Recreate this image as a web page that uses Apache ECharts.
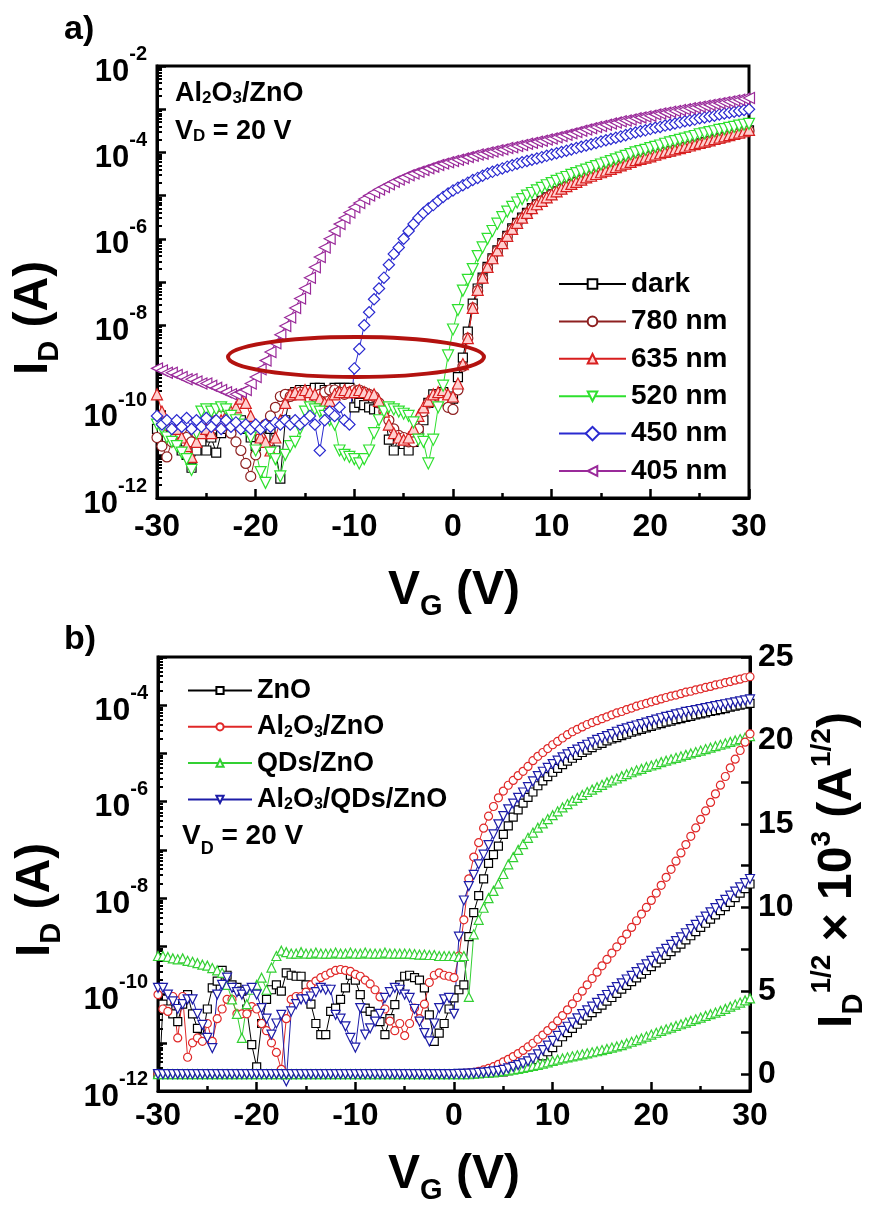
<!DOCTYPE html>
<html><head><meta charset="utf-8">
<script src="https://cdn.jsdelivr.net/npm/echarts@6.0.0/dist/echarts.min.js"></script>
<style>html,body{margin:0;padding:0;background:#fff}#c{width:869px;height:1209px}</style>
</head><body><div id="c"></div>
<script>
// Gate voltage sweep (V)
const VG = [-30,-29.5,-29,-28.5,-28,-27.5,-27,-26.5,-26,-25.5,
-25,-24.5,-24,-23.5,-23,-22.5,-22,-21.5,-21,-20.5,
-20,-19.5,-19,-18.5,-18,-17.5,-17,-16.5,-16,-15.5,
-15,-14.5,-14,-13.5,-13,-12.5,-12,-11.5,-11,-10.5,
-10,-9.5,-9,-8.5,-8,-7.5,-7,-6.5,-6,-5.5,
-5,-4.5,-4,-3.5,-3,-2.5,-2,-1.5,-1,-0.5,
0,0.5,1,1.5,2,2.5,3,3.5,4,4.5,
5,5.5,6,6.5,7,7.5,8,8.5,9,9.5,
10,10.5,11,11.5,12,12.5,13,13.5,14,14.5,
15,15.5,16,16.5,17,17.5,18,18.5,19,19.5,
20,20.5,21,21.5,22,22.5,23,23.5,24,24.5,
25,25.5,26,26.5,27,27.5,28,28.5,29,29.5,30];

// ---- panel a) : log10 of I_D (A), Al2O3/ZnO under illumination ----
const a_dark_log10ID = [-10.4,-10.45,-10.6,-10.5,-10.7,-10.9,-11.0,-11.3,-10.9,-10.7,
-10.9,-10.6,-10.95,-10.5,-10.4,-10.45,-10.3,-10.2,-10.4,-10.6,
-10.8,-10.5,-10.6,-10.4,-10.9,-11.55,-10.2,-9.6,-9.55,-9.5,
-9.5,-9.5,-9.45,-9.45,-9.5,-9.5,-9.45,-9.45,-9.45,-9.45,
-9.9,-9.8,-9.85,-9.9,-9.95,-10.0,-9.95,-10.65,-10.9,-10.6,
-10.75,-10.9,-10.7,-10.45,-10.2,-9.8,-9.6,-9.6,-9.55,-9.65,
-9.7,-9.2,-8.75,-8.15,-7.5,-7.15,-6.9,-6.65,-6.45,-6.27,
-6.1,-5.93,-5.76,-5.63,-5.51,-5.4,-5.29,-5.2,-5.12,-5.04,
-4.97,-4.9,-4.84,-4.79,-4.73,-4.68,-4.63,-4.59,-4.54,-4.5,
-4.46,-4.42,-4.38,-4.34,-4.3,-4.26,-4.22,-4.19,-4.15,-4.12,
-4.09,-4.06,-4.03,-4.0,-3.97,-3.94,-3.91,-3.88,-3.85,-3.82,
-3.79,-3.76,-3.73,-3.7,-3.67,-3.64,-3.61,-3.58,-3.55,-3.52,-3.49];
const a_780_log10ID = [-10.6,-10.8,-11.05,-10.7,-10.5,-10.4,-10.6,-10.7,-10.5,-10.3,
-10.4,-10.3,-10.2,-10.1,-10.3,-10.5,-10.7,-10.9,-11.2,-11.5,
-11.0,-10.6,-10.3,-10.1,-9.9,-9.65,-9.6,-9.65,-9.6,-9.55,
-9.6,-9.7,-9.65,-9.6,-9.55,-9.5,-9.5,-9.55,-9.6,-9.55,
-9.5,-9.5,-9.55,-9.6,-9.65,-9.8,-10.0,-10.2,-10.4,-10.55,
-10.6,-10.7,-10.7,-10.4,-10.0,-9.8,-9.7,-9.65,-9.75,-9.9,
-9.95,-9.5,-8.95,-8.3,-7.6,-7.2,-6.92,-6.67,-6.46,-6.28,
-6.11,-5.94,-5.78,-5.64,-5.52,-5.41,-5.3,-5.21,-5.12,-5.05,
-4.98,-4.91,-4.85,-4.79,-4.74,-4.69,-4.64,-4.59,-4.55,-4.51,
-4.47,-4.43,-4.39,-4.35,-4.31,-4.27,-4.23,-4.19,-4.16,-4.13,
-4.1,-4.06,-4.03,-4.0,-3.97,-3.94,-3.91,-3.88,-3.85,-3.82,
-3.8,-3.77,-3.74,-3.71,-3.68,-3.65,-3.62,-3.59,-3.56,-3.53,-3.5];
const a_635_log10ID = [-9.6,-10.0,-10.3,-10.5,-10.4,-10.6,-10.8,-11.05,-10.7,-10.5,
-10.4,-10.5,-10.3,-10.2,-10.1,-10.0,-9.9,-9.7,-9.8,-10.1,
-10.4,-10.6,-10.7,-10.9,-10.6,-10.2,-9.8,-9.6,-9.55,-9.6,
-9.5,-9.55,-9.6,-9.7,-9.8,-9.75,-9.6,-9.55,-9.5,-9.55,
-9.55,-9.5,-9.55,-9.6,-9.6,-9.75,-10.0,-10.3,-10.5,-10.6,
-10.65,-10.6,-10.4,-10.1,-9.9,-9.75,-9.6,-9.55,-9.5,-9.6,
-9.65,-9.35,-8.9,-8.3,-7.6,-7.18,-6.9,-6.65,-6.45,-6.27,
-6.1,-5.93,-5.77,-5.63,-5.51,-5.4,-5.29,-5.2,-5.12,-5.04,
-4.97,-4.9,-4.84,-4.78,-4.73,-4.68,-4.63,-4.58,-4.54,-4.5,
-4.46,-4.42,-4.38,-4.34,-4.3,-4.26,-4.22,-4.18,-4.15,-4.12,
-4.09,-4.05,-4.02,-3.99,-3.96,-3.93,-3.9,-3.87,-3.84,-3.81,
-3.78,-3.75,-3.72,-3.69,-3.66,-3.63,-3.6,-3.57,-3.54,-3.51,-3.48];
const a_520_log10ID = [-10.3,-10.4,-10.6,-10.7,-10.8,-10.95,-11.1,-11.35,-10.5,-10.0,
-9.95,-10.0,-9.95,-9.9,-9.95,-10.1,-10.2,-10.3,-10.4,-10.6,
-10.9,-11.4,-11.65,-10.95,-11.1,-11.5,-11.0,-10.8,-10.7,-10.4,
-10.0,-9.9,-9.95,-10.0,-10.1,-10.2,-10.3,-10.9,-11.0,-11.05,
-11.1,-11.2,-11.1,-10.9,-10.5,-10.2,-10.0,-9.9,-9.95,-10.0,
-10.05,-10.1,-10.25,-10.65,-10.7,-11.2,-10.65,-9.9,-9.4,-8.7,
-8.1,-7.65,-7.2,-6.95,-6.7,-6.4,-6.2,-6.0,-5.82,-5.65,
-5.5,-5.37,-5.26,-5.16,-5.08,-5.0,-4.94,-4.88,-4.82,-4.76,
-4.71,-4.66,-4.61,-4.57,-4.52,-4.48,-4.44,-4.4,-4.36,-4.32,
-4.28,-4.24,-4.2,-4.16,-4.12,-4.08,-4.04,-4.0,-3.97,-3.94,
-3.9,-3.87,-3.84,-3.8,-3.77,-3.74,-3.71,-3.68,-3.65,-3.62,
-3.58,-3.56,-3.53,-3.51,-3.48,-3.46,-3.43,-3.41,-3.38,-3.36,-3.34];
const a_450_log10ID = [-10.1,-10.3,-10.2,-10.4,-10.2,-10.35,-10.15,-10.4,-10.2,-10.35,
-10.15,-10.35,-10.2,-10.4,-10.2,-10.35,-10.25,-10.4,-10.3,-10.4,
-10.3,-10.4,-10.3,-10.35,-10.25,-10.3,-10.2,-10.3,-10.2,-10.3,
-10.2,-10.1,-10.3,-10.9,-10.2,-10.0,-10.1,-9.9,-10.2,-10.3,
-9.0,-8.55,-8.0,-7.7,-7.4,-7.15,-6.9,-6.6,-6.35,-6.2,
-6.0,-5.82,-5.66,-5.52,-5.4,-5.3,-5.22,-5.12,-5.03,-4.95,
-4.88,-4.82,-4.76,-4.7,-4.64,-4.59,-4.54,-4.49,-4.45,-4.41,
-4.37,-4.33,-4.3,-4.26,-4.23,-4.2,-4.17,-4.14,-4.11,-4.08,
-4.05,-4.02,-3.99,-3.96,-3.93,-3.9,-3.87,-3.84,-3.81,-3.78,
-3.75,-3.72,-3.69,-3.66,-3.63,-3.6,-3.57,-3.54,-3.51,-3.49,
-3.46,-3.43,-3.41,-3.38,-3.36,-3.33,-3.31,-3.28,-3.26,-3.24,
-3.21,-3.19,-3.17,-3.15,-3.12,-3.1,-3.08,-3.06,-3.04,-3.02,-3.0];
const a_405_log10ID = [-9.0,-9.05,-9.1,-9.1,-9.15,-9.2,-9.25,-9.25,-9.3,-9.35,
-9.35,-9.4,-9.45,-9.5,-9.55,-9.6,-9.6,-9.55,-9.5,-9.35,
-9.2,-9.02,-8.82,-8.62,-8.42,-8.22,-8.02,-7.82,-7.6,-7.38,
-7.15,-6.9,-6.66,-6.42,-6.2,-6.0,-5.82,-5.66,-5.52,-5.39,
-5.27,-5.17,-5.08,-5.0,-4.93,-4.86,-4.8,-4.74,-4.68,-4.63,
-4.58,-4.53,-4.49,-4.45,-4.41,-4.37,-4.33,-4.29,-4.26,-4.23,
-4.2,-4.17,-4.14,-4.11,-4.08,-4.05,-4.03,-4.0,-3.98,-3.95,
-3.93,-3.9,-3.88,-3.85,-3.83,-3.8,-3.78,-3.75,-3.73,-3.7,
-3.68,-3.65,-3.62,-3.59,-3.56,-3.53,-3.5,-3.47,-3.44,-3.41,
-3.39,-3.36,-3.33,-3.31,-3.28,-3.26,-3.24,-3.21,-3.19,-3.17,
-3.15,-3.12,-3.1,-3.08,-3.06,-3.04,-3.02,-3.0,-2.98,-2.96,
-2.94,-2.92,-2.9,-2.88,-2.86,-2.84,-2.82,-2.8,-2.78,-2.76,-2.74];

// ---- panel b) : log10 of I_D (A), left axis ----
const b_ZnO_log10ID = [-12.3,-10.2,-10.3,-10.4,-10.56,-10.2,-10.0,-10.4,-10.7,-10.9,
-10.3,-9.86,-9.72,-9.5,-9.6,-9.8,-9.85,-9.93,-10.3,-11.04,
-11.5,-10.6,-10.1,-9.9,-9.8,-9.93,-9.55,-9.6,-9.62,-9.62,
-9.8,-10.2,-10.6,-10.83,-10.83,-10.35,-10.28,-10.1,-9.86,-9.6,
-9.7,-10.0,-10.28,-10.35,-10.42,-10.56,-10.83,-10.5,-10.21,-9.8,
-9.62,-9.6,-9.65,-9.7,-9.86,-10.42,-10.97,-10.8,-10.6,-10.3,
-10.07,-9.9,-9.8,-8.8,-8.3,-7.95,-7.6,-7.28,-7.1,-6.92,
-6.68,-6.5,-6.32,-6.17,-6.03,-5.91,-5.8,-5.67,-5.57,-5.48,
-5.39,-5.31,-5.23,-5.16,-5.1,-5.04,-4.98,-4.93,-4.88,-4.83,
-4.79,-4.74,-4.7,-4.67,-4.63,-4.6,-4.56,-4.53,-4.5,-4.47,
-4.44,-4.41,-4.38,-4.35,-4.33,-4.3,-4.28,-4.25,-4.23,-4.2,
-4.18,-4.16,-4.13,-4.11,-4.09,-4.07,-4.04,-4.02,-4.0,-3.98,-3.96];
const b_AlZnO_log10ID = [-10.0,-10.3,-10.35,-10.04,-10.9,-10.04,-11.3,-11.0,-10.9,-10.97,
-10.6,-10.97,-10.5,-10.3,-10.1,-10.1,-10.4,-10.4,-10.4,-10.25,
-10.3,-10.6,-10.75,-11.0,-11.2,-11.55,-10.5,-10.1,-10.04,-10.04,
-9.95,-9.8,-9.72,-9.65,-9.6,-9.55,-9.5,-9.48,-9.5,-9.52,
-9.58,-9.62,-9.7,-9.78,-9.9,-10.05,-10.3,-10.55,-10.75,-10.6,
-10.85,-10.6,-10.28,-10.5,-10.2,-9.75,-9.6,-9.55,-9.6,-9.62,
-9.65,-9.2,-8.45,-7.6,-7.15,-6.85,-6.55,-6.3,-6.1,-5.92,
-5.78,-5.66,-5.56,-5.46,-5.37,-5.27,-5.15,-5.06,-4.98,-4.9,
-4.82,-4.75,-4.68,-4.61,-4.55,-4.5,-4.45,-4.4,-4.36,-4.32,
-4.28,-4.24,-4.2,-4.16,-4.13,-4.09,-4.06,-4.02,-3.99,-3.96,
-3.93,-3.9,-3.87,-3.84,-3.81,-3.79,-3.76,-3.73,-3.71,-3.68,
-3.66,-3.63,-3.61,-3.58,-3.56,-3.53,-3.51,-3.48,-3.46,-3.43,-3.41];
const b_QDZnO_log10ID = [-9.2,-9.2,-9.22,-9.25,-9.27,-9.25,-9.3,-9.32,-9.35,-9.38,
-9.4,-9.45,-9.5,-9.55,-9.8,-10.1,-10.4,-10.9,-10.2,-9.9,
-9.8,-9.65,-9.9,-9.44,-9.2,-9.09,-9.12,-9.15,-9.15,-9.12,
-9.15,-9.15,-9.13,-9.15,-9.15,-9.15,-9.13,-9.15,-9.15,-9.13,
-9.15,-9.15,-9.13,-9.15,-9.15,-9.15,-9.13,-9.15,-9.15,-9.15,
-9.15,-9.15,-9.16,-9.17,-9.17,-9.18,-9.18,-9.2,-9.2,-9.2,
-9.2,-9.22,-9.2,-10.05,-8.75,-8.45,-8.2,-8.0,-7.85,-7.7,
-7.5,-7.3,-7.15,-7.0,-6.88,-6.75,-6.64,-6.54,-6.45,-6.36,
-6.28,-6.2,-6.12,-6.05,-5.98,-5.92,-5.86,-5.8,-5.75,-5.7,
-5.65,-5.6,-5.56,-5.52,-5.47,-5.43,-5.39,-5.35,-5.32,-5.28,
-5.25,-5.22,-5.18,-5.15,-5.12,-5.09,-5.06,-5.03,-5.0,-4.97,
-4.94,-4.91,-4.88,-4.85,-4.82,-4.79,-4.76,-4.73,-4.7,-4.67,-4.64];
const b_AlQDZnO_log10ID = [-9.86,-9.86,-10.0,-10.14,-10.3,-10.2,-10.1,-10.1,-10.4,-10.63,
-10.9,-11.11,-10.0,-9.8,-9.65,-9.86,-9.95,-10.0,-9.9,-9.86,
-10.0,-10.28,-10.5,-10.83,-10.6,-10.42,-11.8,-10.35,-10.2,-10.1,
-10.1,-10.04,-9.95,-9.86,-9.9,-9.9,-10.42,-10.5,-10.66,-10.9,
-11.1,-10.28,-10.83,-10.7,-10.56,-10.4,-10.07,-9.95,-9.86,-9.9,
-10.0,-10.07,-10.3,-10.56,-10.8,-10.97,-10.6,-10.28,-10.1,-10.07,
-10.4,-8.8,-8.05,-7.75,-7.52,-7.3,-7.1,-6.9,-6.68,-6.47,
-6.3,-6.16,-6.04,-5.92,-5.81,-5.7,-5.58,-5.47,-5.38,-5.3,
-5.22,-5.15,-5.08,-5.02,-4.97,-4.92,-4.87,-4.82,-4.77,-4.72,
-4.68,-4.64,-4.6,-4.55,-4.51,-4.48,-4.45,-4.42,-4.39,-4.36,
-4.33,-4.3,-4.27,-4.24,-4.22,-4.19,-4.17,-4.14,-4.12,-4.1,
-4.08,-4.06,-4.04,-4.02,-4.0,-3.98,-3.96,-3.94,-3.92,-3.9,-3.88];

// ---- panel b) : I_D^(1/2) x 10^3 (A^(1/2)), right axis ----
const b_ZnO_sqrtID = [0.01,0.01,0.01,0.01,0.01,0.01,0.01,0.01,0.01,0.01,
0.01,0.01,0.01,0.01,0.01,0.01,0.01,0.01,0.01,0.01,
0.01,0.01,0.01,0.01,0.01,0.01,0.01,0.01,0.01,0.01,
0.01,0.01,0.01,0.01,0.01,0.01,0.01,0.01,0.01,0.01,
0.01,0.01,0.01,0.01,0.01,0.01,0.01,0.01,0.01,0.01,
0.01,0.01,0.01,0.01,0.01,0.01,0.01,0.01,0.01,0.01,
0.01,0.01,0.02,0.03,0.04,0.05,0.07,0.09,0.11,0.13,
0.15,0.22,0.3,0.4,0.5,0.6,0.7,0.88,1.1,1.35,
1.6,1.92,2.25,2.5,2.75,3.0,3.25,3.48,3.7,3.93,
4.15,4.38,4.6,4.85,5.1,5.33,5.55,5.78,6.0,6.22,
6.45,6.68,6.9,7.12,7.35,7.58,7.8,8.05,8.3,8.55,
8.8,9.05,9.3,9.55,9.8,10.05,10.3,10.58,10.85,11.12,11.4];
const b_AlZnO_sqrtID = [0.02,0.02,0.02,0.02,0.02,0.02,0.02,0.02,0.02,0.02,
0.02,0.02,0.02,0.02,0.02,0.02,0.02,0.02,0.02,0.02,
0.02,0.02,0.02,0.02,0.02,0.02,0.02,0.02,0.02,0.02,
0.02,0.02,0.02,0.02,0.02,0.02,0.02,0.02,0.02,0.02,
0.02,0.02,0.02,0.02,0.02,0.02,0.02,0.02,0.02,0.02,
0.02,0.02,0.02,0.02,0.02,0.02,0.02,0.02,0.02,0.02,
0.02,0.03,0.05,0.08,0.12,0.18,0.26,0.35,0.46,0.6,
0.75,0.9,1.06,1.24,1.43,1.64,1.86,2.1,2.35,2.62,
2.9,3.2,3.52,3.86,4.22,4.6,4.98,5.36,5.74,6.12,
6.5,6.88,7.26,7.64,8.02,8.4,8.8,9.2,9.6,10.0,
10.42,10.86,11.32,11.8,12.28,12.77,13.26,13.76,14.26,14.76,
15.27,15.78,16.29,16.8,17.32,17.84,18.36,18.88,19.4,19.9,20.4];
const b_QDZnO_sqrtID = [0.01,0.01,0.01,0.01,0.01,0.01,0.01,0.01,0.01,0.01,
0.01,0.01,0.01,0.01,0.01,0.01,0.01,0.01,0.01,0.01,
0.01,0.01,0.01,0.01,0.01,0.01,0.01,0.01,0.01,0.01,
0.01,0.01,0.01,0.01,0.01,0.01,0.01,0.01,0.01,0.01,
0.01,0.01,0.01,0.01,0.01,0.01,0.01,0.01,0.01,0.01,
0.01,0.01,0.01,0.01,0.01,0.01,0.01,0.01,0.01,0.01,
0.01,0.01,0.01,0.01,0.04,0.05,0.08,0.1,0.12,0.16,
0.2,0.24,0.28,0.33,0.38,0.44,0.5,0.57,0.64,0.72,
0.8,0.88,0.95,1.02,1.08,1.14,1.2,1.26,1.32,1.38,
1.45,1.52,1.6,1.67,1.75,1.85,1.95,2.05,2.15,2.26,
2.38,2.49,2.6,2.7,2.8,2.9,3.0,3.1,3.2,3.3,
3.4,3.5,3.6,3.7,3.8,3.92,4.05,4.18,4.3,4.43,4.55];
const b_AlQDZnO_sqrtID = [0.01,0.01,0.01,0.01,0.01,0.01,0.01,0.01,0.01,0.01,
0.01,0.01,0.01,0.01,0.01,0.01,0.01,0.01,0.01,0.01,
0.01,0.01,0.01,0.01,0.01,0.01,0.01,0.01,0.01,0.01,
0.01,0.01,0.01,0.01,0.01,0.01,0.01,0.01,0.01,0.01,
0.01,0.01,0.01,0.01,0.01,0.01,0.01,0.01,0.01,0.01,
0.01,0.01,0.01,0.01,0.01,0.01,0.01,0.01,0.01,0.01,
0.01,0.02,0.03,0.04,0.06,0.08,0.1,0.13,0.17,0.21,
0.26,0.35,0.45,0.55,0.65,0.78,0.95,1.2,1.45,1.72,
2.0,2.3,2.6,2.85,3.1,3.35,3.6,3.83,4.05,4.28,
4.5,4.75,5.0,5.22,5.45,5.68,5.9,6.12,6.35,6.58,
6.8,7.05,7.3,7.52,7.75,7.98,8.2,8.45,8.7,8.95,
9.2,9.45,9.7,9.95,10.2,10.45,10.7,10.95,11.2,11.45,11.7];

// ---- tick labels ----
const xTickLabels = [-30,-20,-10,0,10,20,30];
const a_yDecades = [-12,-11,-10,-9,-8,-7,-6,-5,-4,-3,-2];
const a_yLabelExps = [-12,-10,-8,-6,-4,-2];
const b_yDecades = [-12,-11,-10,-9,-8,-7,-6,-5,-4,-3];
const b_yLabelExps = [-12,-10,-8,-6,-4];
const b_rightLabels = [0,5,10,15,20,25];
const b_rightTicks = [0,2.5,5,7.5,10,12.5,15,17.5,20,22.5,25];

const F = "'Liberation Sans', Arial, Helvetica, sans-serif";
const pow10 = e => Number('1e' + e);
const minorOf = decs => { const r = []; decs.slice(0, -1).forEach(d => { for (let k = 2; k <= 9; k++) r.push(k * pow10(d)); }); return r; };

const logData = L => VG.map((v, i) => [v, Math.pow(10, L[i])]);
const linData = S => VG.map((v, i) => [v, S[i]]);

function ser(name, xi, yi, data, o) {
  return { name, type: 'line', xAxisIndex: xi, yAxisIndex: yi, data,
    symbol: o.sym, symbolSize: o.size, symbolRotate: o.rot || 0,
    showSymbol: true, showAllSymbol: true, clip: true, silent: true, animation: false,
    lineStyle: { color: o.color, width: 1 },
    itemStyle: { color: o.fill || '#fff', borderColor: o.color, borderWidth: 1.2 },
    emphasis: { disabled: true } };
}

const subRich = (size) => ({
  n: { fontSize: size, fontWeight: 'bold', fontFamily: F, color: '#000', lineHeight: size, verticalAlign: 'bottom' },
  s: { fontSize: Math.round(size * 0.6), fontWeight: 'bold', fontFamily: F, color: '#000', lineHeight: size, verticalAlign: 'bottom' }
});
const chemFmt = name => {
  const parts = name.split('Al2O3');
  let out = '';
  parts.forEach((p, i) => {
    if (i > 0) out += '{n|Al}{s|2}{n|O}{s|3}';
    if (p) out += '{n|' + p + '}';
  });
  return out;
};

const expRich = (size) => ({
  b: { fontSize: size, fontWeight: 'bold', fontFamily: F, color: '#000', lineHeight: size + 12, verticalAlign: 'bottom' },
  s: { fontSize: 20, fontWeight: 'bold', fontFamily: F, color: '#000', lineHeight: 20, verticalAlign: 'top' }
});
const expFmt = v => '{b|10}{s|' + Math.round(Math.log10(v)) + '}';

const axLine = { onZero: false, lineStyle: { color: '#000', width: 3 } };
function xAx(g) {
  return { gridIndex: g, type: 'value', min: -30, max: 30, interval: 10,
    axisLine: axLine,
    axisTick: { inside: true, length: 9, lineStyle: { color: '#000', width: 2.5 } },
    minorTick: { show: true, splitNumber: 2, length: 5, lineStyle: { color: '#000', width: 2.5 } },
    splitLine: { show: false }, minorSplitLine: { show: false },
    axisLabel: { fontSize: 32, fontWeight: 'bold', fontFamily: F, color: '#000', margin: g === 0 ? 13 : 9 } };
}
function logAx(g, decs, labs) {
  return { gridIndex: g, type: 'log', logBase: 10, min: pow10(decs[0]), max: pow10(decs[decs.length - 1]), position: 'left',
    axisLine: axLine,
    axisTick: { inside: true, length: 9, customValues: decs.map(pow10), lineStyle: { color: '#000', width: 2.5 } },
    axisLabel: { customValues: labs.map(pow10), formatter: expFmt, rich: expRich(g === 0 ? 31 : 32), margin: 10 },
    splitLine: { show: false } };
}
function logMinorAx(g, decs) {
  return { gridIndex: g, type: 'log', logBase: 10, min: pow10(decs[0]), max: pow10(decs[decs.length - 1]), position: 'left',
    axisLine: { show: false, onZero: false }, axisLabel: { show: false }, splitLine: { show: false },
    axisTick: { inside: true, length: 5, customValues: minorOf(decs), lineStyle: { color: '#000', width: 2 } } };
}

const series = [
  ser('dark', 0, 0, logData(a_dark_log10ID), { sym: 'rect', size: 9, color: '#000' }),
  ser('780 nm', 0, 0, logData(a_780_log10ID), { sym: 'circle', size: 10, color: '#8e2020', fill: '#fff' }),
  ser('635 nm', 0, 0, logData(a_635_log10ID), { sym: 'triangle', size: 11, color: '#d81e1e', fill: '#ffcfcf' }),
  ser('520 nm', 0, 0, logData(a_520_log10ID), { sym: 'triangle', size: 11, rot: 180, color: '#2ee02e' }),
  ser('450 nm', 0, 0, logData(a_450_log10ID), { sym: 'rect', size: 8, rot: 45, color: '#2a2ad0' }),
  ser('405 nm', 0, 0, logData(a_405_log10ID), { sym: 'triangle', size: 11, rot: 90, color: '#9a2a9a' }),

  ser('ZnO', 1, 2, logData(b_ZnO_log10ID), { sym: 'rect', size: 8, color: '#000' }),
  ser('Al2O3/ZnO', 1, 2, logData(b_AlZnO_log10ID), { sym: 'circle', size: 8, color: '#e02828' }),
  ser('QDs/ZnO', 1, 2, logData(b_QDZnO_log10ID), { sym: 'triangle', size: 9, color: '#33d033' }),
  ser('Al2O3/QDs/ZnO', 1, 2, logData(b_AlQDZnO_log10ID), { sym: 'triangle', size: 9, rot: 180, color: '#1c1ca8' }),
  ser('ZnO', 1, 4, linData(b_ZnO_sqrtID), { sym: 'rect', size: 8, color: '#000' }),
  ser('Al2O3/ZnO', 1, 4, linData(b_AlZnO_sqrtID), { sym: 'circle', size: 8, color: '#e02828' }),
  ser('QDs/ZnO', 1, 4, linData(b_QDZnO_sqrtID), { sym: 'triangle', size: 9, color: '#33d033' }),
  ser('Al2O3/QDs/ZnO', 1, 4, linData(b_AlQDZnO_sqrtID), { sym: 'triangle', size: 9, rot: 180, color: '#1c1ca8' })
];

const T = (x, y, text, rich, extra) => Object.assign({
  type: 'text', x, y, silent: true, z: 100,
  style: { text, rich, fill: '#000', align: 'left', verticalAlign: 'middle', textAlign: 'left', textVerticalAlign: 'middle', fontFamily: F, fontWeight: 'bold' }
}, extra || {});
const C = (x, y, text, rich, rot) => ({
  type: 'text', x, y, rotation: rot || 0, silent: true, z: 100,
  style: { text, rich, fill: '#000', align: 'center', verticalAlign: 'middle', textAlign: 'center', textVerticalAlign: 'middle', fontFamily: F, fontWeight: 'bold' }
});
const titleRich = {
  a: { fontSize: 48, fontWeight: 'bold', fontFamily: F, color: '#000', lineHeight: 60, verticalAlign: 'middle' },
  d: { fontSize: 29, fontWeight: 'bold', fontFamily: F, color: '#000', lineHeight: 60, verticalAlign: 'bottom' },
  u: { fontSize: 28, fontWeight: 'bold', fontFamily: F, color: '#000', lineHeight: 60, verticalAlign: 'top' }
};
const vdRichA = {
  n: { fontSize: 27, fontWeight: 'bold', fontFamily: F, color: '#000', lineHeight: 28, verticalAlign: 'bottom' },
  s: { fontSize: 17, fontWeight: 'bold', fontFamily: F, color: '#000', lineHeight: 28, verticalAlign: 'bottom' }
};
const vdRichB = {
  n: { fontSize: 28, fontWeight: 'bold', fontFamily: F, color: '#000', lineHeight: 30, verticalAlign: 'middle' },
  s: { fontSize: 18, fontWeight: 'bold', fontFamily: F, color: '#000', lineHeight: 44, verticalAlign: 'bottom' }
};

const option = {
  animation: false,
  backgroundColor: '#fff',
  grid: [
    { left: 157, top: 66, width: 592, height: 432, show: true, borderColor: '#000', borderWidth: 3, backgroundColor: 'transparent' },
    { left: 158, top: 657, width: 592, height: 434, show: true, borderColor: '#000', borderWidth: 3, backgroundColor: 'transparent' }
  ],
  xAxis: [xAx(0), xAx(1)],
  yAxis: [
    logAx(0, a_yDecades, a_yLabelExps),
    logMinorAx(0, a_yDecades),
    logAx(1, b_yDecades, b_yLabelExps),
    logMinorAx(1, b_yDecades),
    { gridIndex: 1, type: 'value', position: 'right', min: -1, max: 25,
      axisLine: axLine,
      axisTick: { inside: true, length: 9, customValues: b_rightTicks, lineStyle: { color: '#000', width: 2.5 } },
      axisLabel: { customValues: b_rightLabels, fontSize: 32, fontWeight: 'bold', fontFamily: F, color: '#000', margin: 8 },
      splitLine: { show: false } }
  ],
  legend: [
    { data: ['dark', '780 nm', '635 nm', '520 nm', '450 nm', '405 nm'], orient: 'vertical', left: 553, top: 265,
      itemWidth: 67, itemHeight: 12, itemGap: 9.4, selectedMode: false,
      textStyle: { fontSize: 28, fontWeight: 'bold', fontFamily: F, color: '#000', lineHeight: 28 } },
    { data: ['ZnO', 'Al2O3/ZnO', 'QDs/ZnO', 'Al2O3/QDs/ZnO'], orient: 'vertical', left: 182, top: 672,
      itemWidth: 64, itemHeight: 9, itemGap: 9.3, selectedMode: false,
      formatter: chemFmt,
      textStyle: { fontSize: 27, fontWeight: 'bold', fontFamily: F, color: '#000', lineHeight: 27, rich: subRich(27) } }
  ],
  graphic: [
    T(64, 30, 'a)', null, { style: { text: 'a)', fontSize: 34, fontWeight: 'bold', fontFamily: F, fill: '#000', align: 'left', verticalAlign: 'middle' } }),
    T(64, 640, 'b)', null, { style: { text: 'b)', fontSize: 34, fontWeight: 'bold', fontFamily: F, fill: '#000', align: 'left', verticalAlign: 'middle' } }),
    T(175, 93, '{n|Al}{s|2}{n|O}{s|3}{n|/ZnO}', vdRichA),
    T(175, 131, '{n|V}{s|D}{n| = 20 V}', vdRichA),
    T(182, 836, '{n|V}{s|D}{n| = 20 V}', vdRichB),
    C(454, 591, '{a|V}{d|G}{a| (V)}', titleRich),
    C(454, 1175, '{a|V}{d|G}{a| (V)}', titleRich),
    C(34, 318, '{a|I}{d|D}{a| (A)}', titleRich, Math.PI / 2),
    C(36, 900, '{a|I}{d|D}{a| (A)}', titleRich, Math.PI / 2),
    C(838, 870, '{a|I}{d|D}{u|1/2}{a| × 10}{u|3}{a| (A}{u|1/2}{a|)}', titleRich, Math.PI / 2),
    { type: 'ellipse', silent: true, z: 90, shape: { cx: 356, cy: 357, rx: 128, ry: 20 },
      style: { fill: 'none', stroke: '#b3120f', lineWidth: 4 } }
  ],
  series
};

const chart = echarts.init(document.getElementById('c'), null, { renderer: 'canvas', width: 869, height: 1209 });
chart.setOption(option);
</script>
</body></html>
